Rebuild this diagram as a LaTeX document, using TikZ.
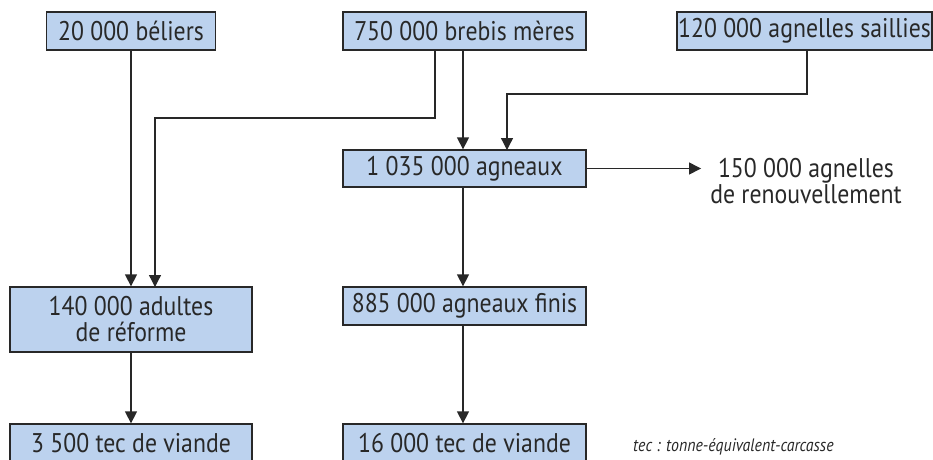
\documentclass[tikz,border=0pt]{standalone}
\usepackage{fontspec}
\setmainfont{PT Sans}[FakeStretch=0.88]
\usepackage{xcolor}
\usetikzlibrary{arrows.meta}
\definecolor{bleuboite}{RGB}{188,210,238}
\definecolor{trait}{RGB}{40,40,40}

\begin{document}
\begin{tikzpicture}[x=1pt,y=-1pt,
  boite/.style={draw=trait, line width=1.3pt, fill=bleuboite, inner sep=0pt,
    minimum height=38pt, minimum width=243pt, align=center, text=trait,
    font=\fontsize{27}{26}\selectfont},
  fleche/.style={draw=trait, line width=1.3pt, -{Triangle[width=12pt,length=12pt]}}]
\useasboundingbox (0,0) rectangle (933,459);
% lignes du haut
\node [boite, minimum width=169pt] (beliers) at (131,31) {20 000 béliers};
\node [boite] (brebis) at (464.5,31) {750 000 brebis mères};
\node [boite, minimum width=255pt] (saillies) at (804.5,31) {120 000 agnelles saillies};
\node [boite, minimum height=37pt] (agneaux) at (464.5,168.5) {1 035 000 agneaux};
\node [text=trait, align=center, inner sep=9pt, font=\fontsize{27}{26}\selectfont] (renouv) at (806,181) {150 000 agnelles\\de renouvellement};
% lignes du bas
\node [boite, minimum width=242pt, minimum height=65pt] (adultes) at (131,319.5) {140 000 adultes\\de réforme};
\node [boite] (finis) at (464.5,306) {885 000 agneaux finis};
\node [boite, minimum width=242pt] (viandeA) at (131,443) {3 500 tec de viande};
\node [boite] (viandeB) at (464.5,443) {16 000 tec de viande};
\node [anchor=west, text=trait, inner sep=0pt, font=\fontsize{18}{20}\selectfont\itshape] (note) at (633,447) {tec : tonne-équivalent-carcasse};
% coudes
\coordinate (b1) at (435,50);
\coordinate (b2) at (463,50);
\coordinate (s1) at (807,50);
\coordinate (ad2) at (155,287);
\coordinate (ag2) at (507,150);
\draw [fleche] (beliers.south) -- (beliers.south |- adultes.north);
\draw [fleche] (b1) -- (435,118) -- (155,118) -- (ad2);
\draw [fleche] (b2) -- (b2 |- agneaux.north);
\draw [fleche] (s1) -- (807,94) -- (507,94) -- (ag2);
\draw [fleche] (agneaux.east) -- (agneaux.east -| renouv.west);
\draw [fleche] (agneaux.south -| b2) -- (b2 |- finis.north);
\draw [fleche] (adultes.south) -- (viandeA.north);
\draw [fleche] (finis.south -| b2) -- (b2 |- viandeB.north);
\end{tikzpicture}
\end{document}
